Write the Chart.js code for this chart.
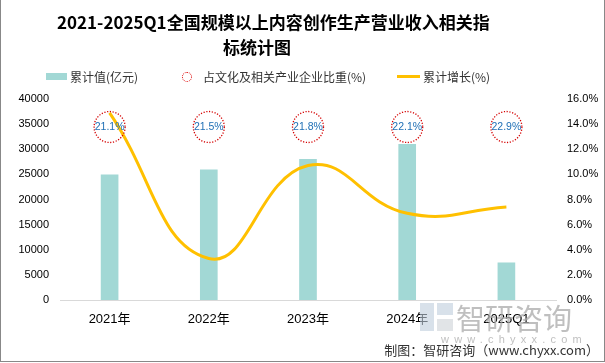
<!DOCTYPE html>
<html>
<head>
<meta charset="utf-8">
<script src="https://cdn.jsdelivr.net/npm/chart.js@4.4.1/dist/chart.umd.min.js"></script>
<style>
  html, body { margin: 0; padding: 0; background: #fff; }
  #wrap { position: relative; width: 605px; height: 363px; overflow: hidden;
          font-family: "Noto Sans CJK SC", "Liberation Sans", sans-serif; }
  #frame { position: absolute; left: 0; top: 0; width: 603px; height: 361px;
           border-left: 1px solid #888; border-right: 1px solid #888; border-bottom: 1px solid #888; pointer-events: none; }
  canvas { position: absolute; left: 0; top: 0; }
  .t { position: absolute; white-space: nowrap; }
  #title { left: 57px; width: 400px; top: 9px; text-align: center; font-size: 17px; font-weight: bold; line-height: 25px; color: #000; }
  .lg { top: 68px; font-size: 12px; color: #333; line-height: 18px; }
  #foot { right: 6px; top: 340px; font-size: 13px; color: #333; }
  .wm { color: rgba(170,170,170,0.75); }
</style>
</head>
<body>
<div id="wrap">
  <canvas id="stockChart" width="605" height="363"></canvas>
  <div id="title" class="t">2021-2025Q1全国规模以上内容创作生产营业收入相关指<br>标统计图</div>

  <div class="t" style="left:46px;top:73px;width:21px;height:7px;background:#A2D8D5"></div>
  <div class="t lg" style="left:70px">累计值(亿元)</div>
  <div class="t" style="left:182px;top:72px;width:8px;height:8px;border:1px dotted #d00;border-radius:50%"></div>
  <div class="t lg" style="left:203px">占文化及相关产业企业比重(%)</div>
  <div class="t" style="left:397px;top:75px;width:23px;height:3px;background:#FFC000"></div>
  <div class="t lg" style="left:423px">累计增长(%)</div>

  <div class="t wm" style="left:420px;top:303px;width:14px;height:28px;background:rgba(190,205,220,0.6)"></div>
  <div class="t wm" style="left:437px;top:303px;width:16px;height:12px;background:rgba(190,205,220,0.6)"></div>
  <div class="t wm" style="left:437px;top:319px;width:16px;height:12px;background:rgba(205,210,215,0.6)"></div>
  <div class="t wm" style="left:456px;top:296px;font-size:29px;">智研咨询</div>
  <div class="t wm" style="left:441px;top:333px;font-size:11px;letter-spacing:5.2px;font-family:'Liberation Sans'">www.chyxx.com</div>

  <div id="foot" class="t">制图：智研咨询（www.chyxx.com）</div>
  <div id="frame"></div>
</div>
<script>
// 数据
const categories = ['2021年', '2022年', '2023年', '2024年', '2025Q1'];
const totalValues = [24900, 25900, 28000, 31000, 7400];   // 累计值(亿元)
const shareValues = [21.1, 21.5, 21.8, 22.1, 22.9];       // 占文化及相关产业企业比重(%)
const growthValues = [14.9, 3.3, 10.7, 6.9, 7.4];         // 累计增长(%)

const leftTicks = [0, 5000, 10000, 15000, 20000, 25000, 30000, 35000, 40000];
const rightTicks = [0, 2, 4, 6, 8, 10, 12, 14, 16];

// 画比重的虚线圆圈
const shareCircles = {
    id: 'shareCircles',
    afterDatasetsDraw(chart) {
        const ctx = chart.ctx;
        const xs = chart.scales.x;
        const y = chart.chartArea.top + 28;
        ctx.save();
        shareValues.forEach((v, i) => {
            const x = xs.getPixelForValue(i);
            ctx.beginPath();
            ctx.setLineDash([1.2, 1.6]);
            ctx.lineWidth = 1.3;
            ctx.strokeStyle = '#d40000';
            ctx.arc(x, y, 15.5, 0, Math.PI * 2);
            ctx.stroke();
            ctx.setLineDash([]);
            ctx.fillStyle = '#1f6fb5';
            ctx.font = '10.5px "Liberation Sans"';
            ctx.textAlign = 'center';
            ctx.textBaseline = 'middle';
            ctx.fillText(v.toFixed(1) + '%', x, y);
        });
        ctx.restore();
    }
};

const ctx = document.getElementById('stockChart').getContext('2d');
new Chart(ctx, {
    data: {
        labels: categories,
        datasets: [
            {
                type: 'line',
                label: '累计增长(%)',
                data: growthValues,
                yAxisID: 'y1',
                borderColor: '#FFC000',
                borderWidth: 3,
                pointRadius: 0,
                tension: 0.45,
                fill: false,
                order: 0
            },
            {
                type: 'bar',
                label: '累计值(亿元)',
                data: totalValues,
                yAxisID: 'y',
                backgroundColor: '#A2D8D5',
                barThickness: 17,
                order: 1
            }
        ]
    },
    options: {
        responsive: false,
        animation: false,
        layout: { padding: { top: 99, left: 0, right: 0, bottom: 0 } },
        plugins: { legend: { display: false }, tooltip: { enabled: false } },
        scales: {
            x: {
                grid: { display: false, drawTicks: false },
                border: { display: true, color: '#d9d9d9' },
                ticks: { padding: 12, color: '#000', font: { size: 13, family: 'Liberation Sans, Noto Sans CJK SC' } },
                afterFit(s) { s.height = 63; }
            },
            y: {
                position: 'left',
                min: 0, max: 40000,
                afterBuildTicks(s) { s.ticks = leftTicks.map(v => ({ value: v })); },
                grid: { display: false, drawTicks: false },
                border: { display: false },
                ticks: { padding: 11, color: '#000', font: { size: 11, family: 'Liberation Sans' },
                         callback: v => String(v) },
                afterFit(s) { s.width = 60; }
            },
            y1: {
                position: 'right',
                min: 0, max: 16,
                afterBuildTicks(s) { s.ticks = rightTicks.map(v => ({ value: v })); },
                grid: { display: false, drawTicks: false },
                border: { display: false },
                ticks: { padding: 11, color: '#000', font: { size: 11, family: 'Liberation Sans' },
                         callback: v => v.toFixed(1) + '%' },
                afterFit(s) { s.width = 49; }
            }
        }
    },
    plugins: [shareCircles]
});
</script>
</body>
</html>
